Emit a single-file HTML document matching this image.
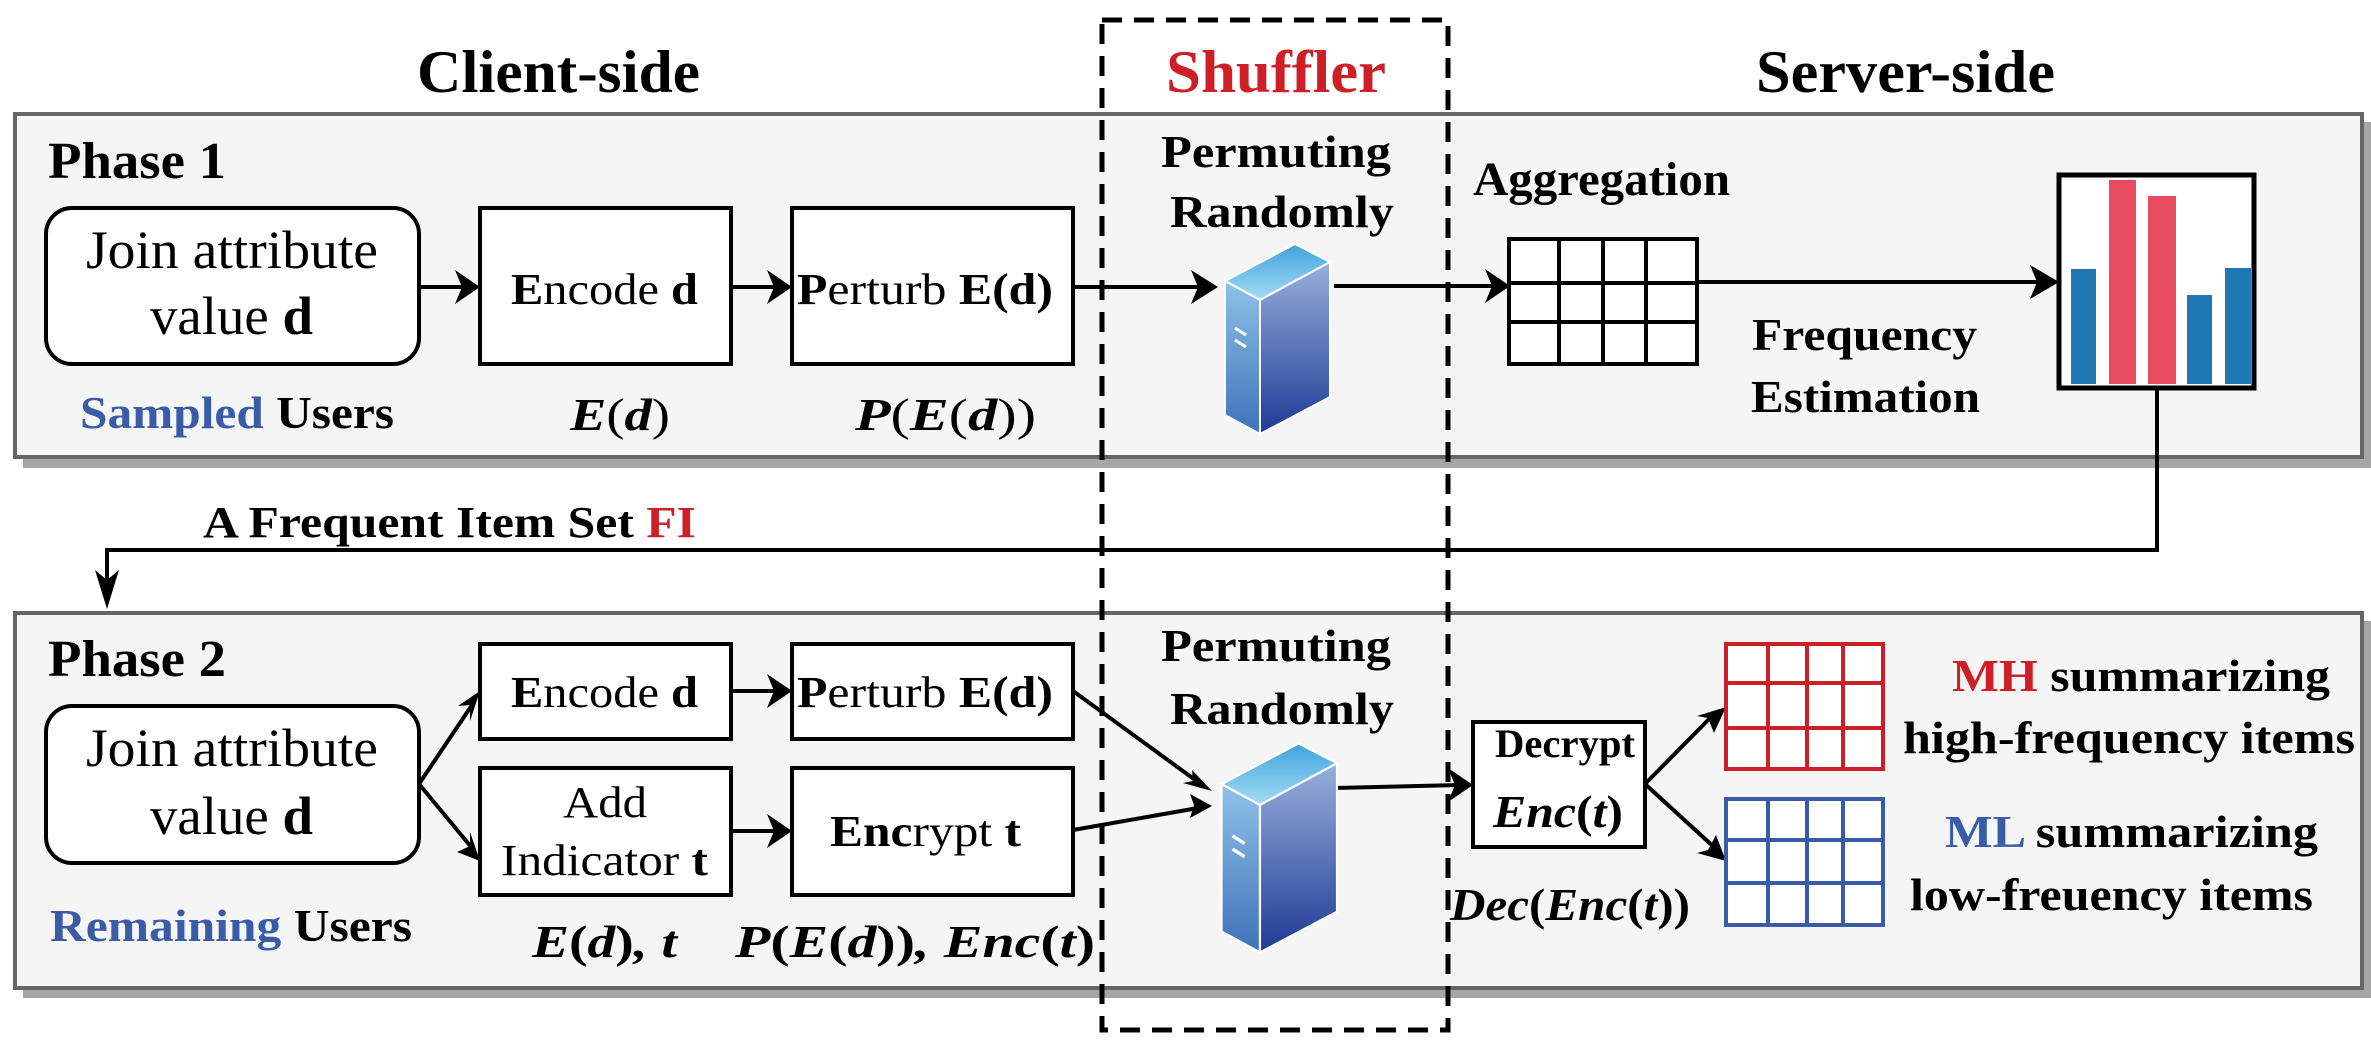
<!DOCTYPE html>
<html><head><meta charset="utf-8"><style>
html,body{margin:0;padding:0;background:#fff;}
svg{display:block;}
.b{font-weight:bold;}
.m{font-weight:bold;font-style:italic;}
</style></head><body>
<svg width="2371" height="1050" viewBox="0 0 2371 1050" xmlns="http://www.w3.org/2000/svg" font-family="'Liberation Serif','DejaVu Serif','Times New Roman',serif">
<defs>
<linearGradient id="gt" x1="0" y1="0" x2="0" y2="1"><stop offset="0" stop-color="#3fa3dc"/><stop offset="1" stop-color="#a5dcf5"/></linearGradient>
<linearGradient id="gl" x1="0" y1="0" x2="0" y2="1"><stop offset="0" stop-color="#8fc2e8"/><stop offset="1" stop-color="#3f72b8"/></linearGradient>
<linearGradient id="gr" x1="0" y1="0" x2="0" y2="1"><stop offset="0" stop-color="#97b0dc"/><stop offset="1" stop-color="#1f3a94"/></linearGradient>
<g id="srv">
<polygon points="1295,244 1330,262 1330,397 1260,434 1225,415 1225,281" fill="#fff"/>
<polygon points="1295,244 1330,262 1260,300 1225,281" fill="url(#gt)" stroke="#fff" stroke-width="2"/>
<polygon points="1225,281 1260,300 1260,434 1225,415" fill="url(#gl)" stroke="#fff" stroke-width="2"/>
<polygon points="1260,300 1330,262 1330,397 1260,434" fill="url(#gr)" stroke="#fff" stroke-width="2"/>
<line x1="1235" y1="328" x2="1246" y2="335" stroke="#fff" stroke-width="3"/>
<line x1="1235" y1="340" x2="1246" y2="347" stroke="#fff" stroke-width="3"/>
</g>
</defs>

<rect x="23" y="122" width="2348" height="346" fill="#a6a6a6"/>
<rect x="15" y="114" width="2347" height="343" fill="#f5f5f5" stroke="#666" stroke-width="4"/>
<rect x="23" y="621" width="2348" height="377" fill="#a6a6a6"/>
<rect x="15" y="613" width="2347" height="375" fill="#f5f5f5" stroke="#666" stroke-width="4"/>

<g lengthAdjust="spacingAndGlyphs">
<text x="417" y="92" font-size="60" class="b" textLength="283" lengthAdjust="spacingAndGlyphs">Client-side</text>
<text x="1166" y="92" font-size="60" class="b" fill="#cc1f27" textLength="220" lengthAdjust="spacingAndGlyphs">Shuffler</text>
<text x="1756" y="92" font-size="60" class="b" textLength="299" lengthAdjust="spacingAndGlyphs">Server-side</text>

<text x="48" y="178" font-size="52" class="b" textLength="178" lengthAdjust="spacingAndGlyphs">Phase 1</text>
<rect x="46" y="208" width="373" height="156" rx="26" fill="#fff" stroke="#000" stroke-width="4"/>
<text x="86" y="268" font-size="54" textLength="292" lengthAdjust="spacingAndGlyphs">Join attribute</text>
<text x="150" y="334" font-size="54" textLength="163" lengthAdjust="spacingAndGlyphs">value <tspan class="b">d</tspan></text>
<rect x="480" y="208" width="251" height="156" fill="#fff" stroke="#000" stroke-width="4"/>
<text x="511" y="304" font-size="44" textLength="187" lengthAdjust="spacingAndGlyphs"><tspan class="b">E</tspan>ncode <tspan class="b">d</tspan></text>
<rect x="792" y="208" width="281" height="156" fill="#fff" stroke="#000" stroke-width="4"/>
<text x="797" y="304" font-size="44" textLength="256" lengthAdjust="spacingAndGlyphs"><tspan class="b">P</tspan>erturb <tspan class="b">E(d)</tspan></text>
<text x="80" y="428" font-size="46" class="b" textLength="314" lengthAdjust="spacingAndGlyphs"><tspan fill="#3a5ba8">Sampled</tspan> Users</text>
<text x="570" y="430" font-size="46" class="m" textLength="100" lengthAdjust="spacingAndGlyphs">E<tspan font-style="normal" font-weight="normal">(</tspan>d<tspan font-style="normal" font-weight="normal">)</tspan></text>
<text x="855" y="430" font-size="46" class="m" textLength="181" lengthAdjust="spacingAndGlyphs">P<tspan font-style="normal" font-weight="normal">(</tspan>E<tspan font-style="normal" font-weight="normal">(</tspan>d<tspan font-style="normal" font-weight="normal">))</tspan></text>
</g>

<g stroke="#000" stroke-width="4" fill="none">
<line x1="419" y1="287" x2="465" y2="287"/>
<line x1="731" y1="287" x2="777" y2="287"/>
<line x1="1073" y1="287" x2="1200" y2="287"/>
<line x1="1334" y1="286" x2="1495" y2="286"/>
<line x1="1697" y1="282" x2="2045" y2="282"/>
</g>
<g fill="#000">
<polygon points="480,287 455,270 462,287 455,304"/>
<polygon points="792,287 767,270 774,287 767,304"/>
<polygon points="1218,287 1191,270 1198,287 1191,304"/>
<polygon points="1510,286 1485,269 1492,286 1485,303"/>
<polygon points="2059,282 2030,265 2037,282 2030,299"/>
</g>

<text x="1161" y="167" font-size="46" class="b" textLength="230" lengthAdjust="spacingAndGlyphs">Permuting</text>
<text x="1170" y="227" font-size="46" class="b" textLength="224" lengthAdjust="spacingAndGlyphs">Randomly</text>
<use href="#srv"/>

<text x="1473" y="195" font-size="48" class="b" textLength="257" lengthAdjust="spacingAndGlyphs">Aggregation</text>
<rect x="1509" y="239" width="188" height="125" fill="#fff" stroke="#000" stroke-width="4"/>
<g stroke="#000" stroke-width="4">
<line x1="1559" y1="239" x2="1559" y2="364"/><line x1="1603" y1="239" x2="1603" y2="364"/><line x1="1646" y1="239" x2="1646" y2="364"/>
<line x1="1509" y1="283" x2="1697" y2="283"/><line x1="1509" y1="322" x2="1697" y2="322"/>
</g>
<text x="1752" y="350" font-size="46" class="b" textLength="225" lengthAdjust="spacingAndGlyphs">Frequency</text>
<text x="1751" y="412" font-size="46" class="b" textLength="229" lengthAdjust="spacingAndGlyphs">Estimation</text>

<rect x="2059" y="175" width="195" height="213" fill="#fff" stroke="#000" stroke-width="5"/>
<rect x="2071" y="269" width="25" height="115" fill="#1f77b4"/>
<rect x="2109" y="180" width="27" height="204" fill="#e84c62"/>
<rect x="2148" y="196" width="28" height="188" fill="#e84c62"/>
<rect x="2187" y="295" width="25" height="89" fill="#1f77b4"/>
<rect x="2225" y="268" width="26" height="116" fill="#1f77b4"/>

<polyline points="2157,388 2157,550 107,550 107,595" stroke="#000" stroke-width="4" fill="none"/>
<polygon points="107,609 95,570 107,580 119,570" fill="#000"/>
<text x="203" y="537" font-size="44" class="b" textLength="493" lengthAdjust="spacingAndGlyphs">A Frequent Item Set <tspan fill="#cc1f27">FI</tspan></text>

<text x="48" y="676" font-size="52" class="b" textLength="178" lengthAdjust="spacingAndGlyphs">Phase 2</text>
<rect x="46" y="706" width="373" height="157" rx="26" fill="#fff" stroke="#000" stroke-width="4"/>
<text x="86" y="766" font-size="54" textLength="292" lengthAdjust="spacingAndGlyphs">Join attribute</text>
<text x="150" y="834" font-size="54" textLength="163" lengthAdjust="spacingAndGlyphs">value <tspan class="b">d</tspan></text>
<rect x="480" y="644" width="251" height="95" fill="#fff" stroke="#000" stroke-width="4"/>
<text x="511" y="707" font-size="44" textLength="187" lengthAdjust="spacingAndGlyphs"><tspan class="b">E</tspan>ncode <tspan class="b">d</tspan></text>
<rect x="792" y="644" width="281" height="95" fill="#fff" stroke="#000" stroke-width="4"/>
<text x="797" y="707" font-size="44" textLength="256" lengthAdjust="spacingAndGlyphs"><tspan class="b">P</tspan>erturb <tspan class="b">E(d)</tspan></text>
<rect x="480" y="768" width="251" height="127" fill="#fff" stroke="#000" stroke-width="4"/>
<text x="563" y="817" font-size="44" textLength="84" lengthAdjust="spacingAndGlyphs">Add</text>
<text x="501" y="875" font-size="44" textLength="207" lengthAdjust="spacingAndGlyphs">Indicator <tspan class="b">t</tspan></text>
<rect x="792" y="768" width="281" height="127" fill="#fff" stroke="#000" stroke-width="4"/>
<text x="830" y="846" font-size="44" textLength="191" lengthAdjust="spacingAndGlyphs"><tspan class="b">Enc</tspan>rypt <tspan class="b">t</tspan></text>
<text x="50" y="941" font-size="46" class="b" textLength="362" lengthAdjust="spacingAndGlyphs"><tspan fill="#3a5ba8">Remaining</tspan> Users</text>
<text x="532" y="957" font-size="46" class="m" textLength="145" lengthAdjust="spacingAndGlyphs">E<tspan font-style="normal">(</tspan>d<tspan font-style="normal">)</tspan>, t</text>
<text x="735" y="957" font-size="46" class="m" textLength="360" lengthAdjust="spacingAndGlyphs">P<tspan font-style="normal">(</tspan>E<tspan font-style="normal">(</tspan>d<tspan font-style="normal">))</tspan>, Enc<tspan font-style="normal">(</tspan>t<tspan font-style="normal">)</tspan></text>

<g stroke="#000" stroke-width="4" fill="none">
<line x1="419" y1="784" x2="472" y2="705"/>
<line x1="419" y1="784" x2="472" y2="848"/>
<line x1="731" y1="691" x2="777" y2="691"/>
<line x1="731" y1="831" x2="777" y2="831"/>
<line x1="1073" y1="691" x2="1198" y2="782"/>
<line x1="1073" y1="830" x2="1198" y2="808"/>
<line x1="1334" y1="788" x2="1460" y2="785"/>
<line x1="1645" y1="784" x2="1715" y2="713"/>
<line x1="1645" y1="784" x2="1715" y2="848"/>
</g>
<g fill="#000">
<polygon points="480,691 458,706 470,705 470,721"/>
<polygon points="480,861 470,832 470,846 457,852"/>
<polygon points="792,691 767,674 774,691 767,708"/>
<polygon points="792,831 767,814 774,831 767,848"/>
<polygon points="1212,791 1183,783 1193,781 1192,770"/>
<polygon points="1212,806 1190,794 1194,805 1190,818"/>
<polygon points="1473,785 1448,768 1455,785 1448,802"/>
<polygon points="1726,707 1697,716 1708,718 1714,733"/>
<polygon points="1726,861 1697,853 1708,850 1716,835"/>
</g>

<text x="1161" y="661" font-size="46" class="b" textLength="230" lengthAdjust="spacingAndGlyphs">Permuting</text>
<text x="1170" y="724" font-size="46" class="b" textLength="224" lengthAdjust="spacingAndGlyphs">Randomly</text>
<use href="#srv" transform="translate(-126,475) scale(1.1)"/>

<rect x="1473" y="722" width="172" height="125" fill="#fff" stroke="#000" stroke-width="4"/>
<text x="1495" y="757" font-size="40" class="b" textLength="140" lengthAdjust="spacingAndGlyphs">Decrypt</text>
<text x="1493" y="827" font-size="46" class="m" textLength="130" lengthAdjust="spacingAndGlyphs">Enc<tspan font-style="normal">(</tspan>t<tspan font-style="normal">)</tspan></text>
<text x="1450" y="920" font-size="46" class="m" textLength="240" lengthAdjust="spacingAndGlyphs">Dec<tspan font-style="normal">(</tspan>Enc<tspan font-style="normal">(</tspan>t<tspan font-style="normal">))</tspan></text>

<g stroke="#cc1f27" stroke-width="4" fill="#fff">
<rect x="1726" y="644" width="157" height="125"/>
<line x1="1768" y1="644" x2="1768" y2="769"/><line x1="1807" y1="644" x2="1807" y2="769"/><line x1="1843" y1="644" x2="1843" y2="769"/>
<line x1="1726" y1="683" x2="1883" y2="683"/><line x1="1726" y1="728" x2="1883" y2="728"/>
</g>
<g stroke="#3a5ba8" stroke-width="4" fill="#fff">
<rect x="1726" y="799" width="157" height="126"/>
<line x1="1768" y1="799" x2="1768" y2="925"/><line x1="1807" y1="799" x2="1807" y2="925"/><line x1="1843" y1="799" x2="1843" y2="925"/>
<line x1="1726" y1="840" x2="1883" y2="840"/><line x1="1726" y1="883" x2="1883" y2="883"/>
</g>
<text x="1952" y="691" font-size="46" class="b" textLength="378" lengthAdjust="spacingAndGlyphs"><tspan fill="#cc1f27">MH</tspan> summarizing</text>
<text x="1903" y="753" font-size="46" class="b" textLength="452" lengthAdjust="spacingAndGlyphs">high-frequency items</text>
<text x="1945" y="847" font-size="46" class="b" textLength="373" lengthAdjust="spacingAndGlyphs"><tspan fill="#3a5ba8">ML</tspan> summarizing</text>
<text x="1910" y="910" font-size="46" class="b" textLength="403" lengthAdjust="spacingAndGlyphs">low-freuency items</text>

<rect x="1102" y="20" width="346" height="1010" fill="none" stroke="#000" stroke-width="5" stroke-dasharray="20,12"/>
</svg>
</body></html>
